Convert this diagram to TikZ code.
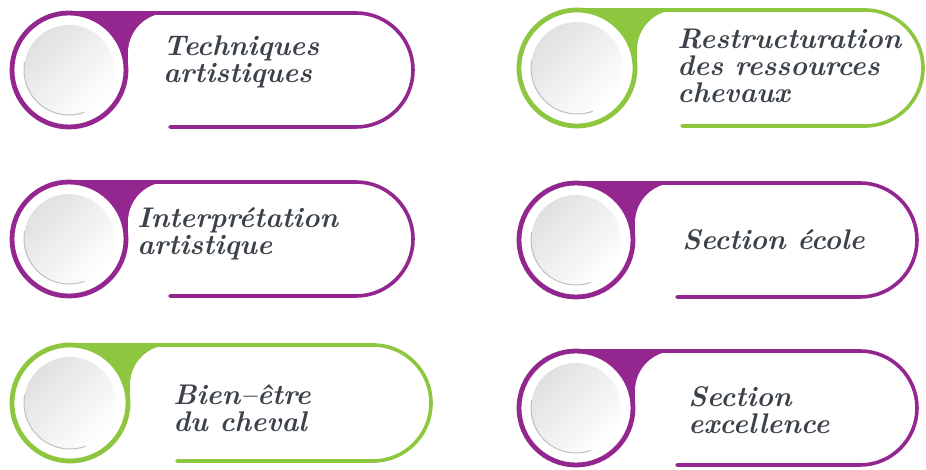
\documentclass[tikz,border=0pt]{standalone}
\usepackage{fontspec}
\usepackage{tikz}

\definecolor{plum}{HTML}{93278F}
\definecolor{leaf}{HTML}{8DC63F}
\definecolor{ink}{HTML}{3C4249}

% colour, centre x, centre y, radius, right end, start of bottom line
\newcommand{\badge}[6]{%
  \begin{scope}[shift={(#2,#3)}]
    \fill[#1] (0,#4) rectangle (#4+42,0);
    \fill[white] (#4+2,-#4) -- (#4+2,#4-40) arc[start angle=180,end angle=90,radius=40]
      -- (#5-#2-2-#4,#4) arc[start angle=90,end angle=-90,radius=#4] -- cycle;
    \draw[#1,line width=1.8pt,line cap=round] (0,#4) -- (#5-#2-2-#4,#4)
      arc[start angle=90,end angle=-90,radius=#4] -- (#6-#2,-#4);
    \filldraw[fill=white,draw=#1,line width=2.4pt] (0,0) circle[radius=#4];
    \shade[top color=black!12,bottom color=white,shading angle=45] (0,0) circle[radius=#4-12];
    \draw[black!25,line width=0.5pt] (170:#4-12) arc[start angle=170,end angle=290,radius=#4-12];
  \end{scope}}

\tikzset{txt/.style={anchor=west,align=left,inner sep=0pt,text=ink,
  font=\fontsize{14.2}{13.5}\selectfont\bfseries\itshape}}

\begin{document}
\begin{tikzpicture}[x=0.5pt,y=0.5pt]
      \useasboundingbox (0,0) rectangle (926,470);
      \badge{plum}{69}{400}{57}{415}{170}
      \badge{leaf}{577}{402}{58}{925}{682}
      \badge{plum}{69}{231}{57}{415}{170}
      \badge{plum}{576}{230}{57}{919}{677}
      \badge{leaf}{70}{67}{58}{433}{177}
      \badge{plum}{576}{62}{57}{919}{677}
      \node (tech) [txt] at (163,408) {Techniques\\artistiques};
      \node (restr) [txt] at (677,404) {Restructuration\\des ressources\\chevaux};
      \node (interp) [txt] at (137,236) {Interprétation\\artistique};
      \node (ecole) [txt] at (682,230) {Section école};
      \node (bien) [txt] at (173,62) {Bien–être\\du cheval};
      \node (excel) [txt] at (688,60) {Section\\excellence};
\end{tikzpicture}
\end{document}
